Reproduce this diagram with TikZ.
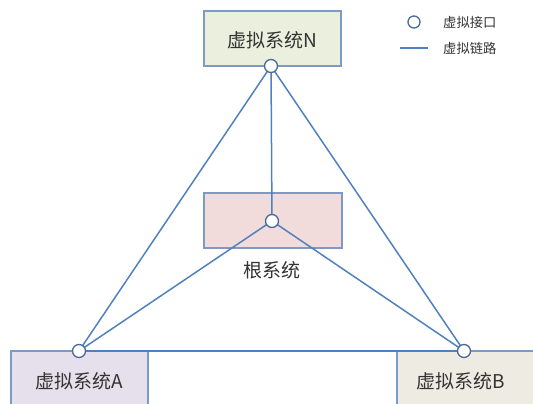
\documentclass[tikz,border=0pt]{standalone}
\usepackage{fontspec}
\setmainfont{Noto Sans CJK SC}
\definecolor{linkc}{HTML}{4F81BD}
\definecolor{boxb}{HTML}{7C9AC4}
\definecolor{portc}{HTML}{4A6A99}
\definecolor{fillN}{HTML}{EBEFDE}
\definecolor{fillR}{HTML}{F2DCDB}
\definecolor{fillA}{HTML}{E5E0EC}
\definecolor{fillB}{HTML}{EEECE2}
\begin{document}
\begin{tikzpicture}[x=1pt,y=-1pt,
  sysbox/.style={draw=boxb,line width=1.3pt,minimum height=55pt,minimum width=137pt,inner sep=0pt},
  lab/.style={font=\fontsize{19}{22}\selectfont,inner sep=0pt,text=black!80},
  port/.style={circle,draw=portc,fill=white,line width=1.3pt,minimum size=13pt,inner sep=0pt},
  link/.style={draw=linkc,line width=1.5pt},
  legtext/.style={font=\fontsize{13.3}{15}\selectfont,anchor=west,inner sep=0pt,text=black!80}]
\useasboundingbox (0,0) rectangle (533,404);
% boxes
\node[sysbox,fill=fillN] (N) at (272.5,38.5) {};
\node[sysbox,fill=fillR,minimum width=138pt] (R) at (273,220.5) {};
\node[sysbox,fill=fillA] (A) at (79.5,378.5) {};
\node[sysbox,fill=fillB] (B) at (465.5,378.5) {};
% labels
\node[lab] (Nl) at (272,40) {虚拟系统N};
\node[lab] (Al) at (79,381) {虚拟系统A};
\node[lab] (Bl) at (461,381) {虚拟系统B};
\node[lab] (Rl) at (272,270) {根系统};
% ports coordinates
\coordinate (pN) at (271,66);
\coordinate (pR) at (272,221);
\coordinate (pA) at (79,351);
\coordinate (pB) at (464,351);
% links
\draw[link] (pN) -- (pR);
\draw[link] (pN) -- (pA);
\draw[link] (pN) -- (pB);
\draw[link] (pR) -- (pA);
\draw[link] (pR) -- (pB);
\draw[link] (pA) -- (pB);
% ports
\node[port] (cN) at (pN) {};
\node[port] (cR) at (pR) {};
\node[port] (cA) at (pA) {};
\node[port] (cB) at (pB) {};
% legend
\node[port,minimum size=12pt] (lc) at (414,22) {};
\node[legtext] (lt1) at (443,22) {虚拟接口};
\coordinate (l1) at (400,48);
\coordinate (l2) at (428,48);
\draw[link] (l1) -- (l2);
\node[legtext] (lt2) at (443,48) {虚拟链路};
\end{tikzpicture}
\end{document}
